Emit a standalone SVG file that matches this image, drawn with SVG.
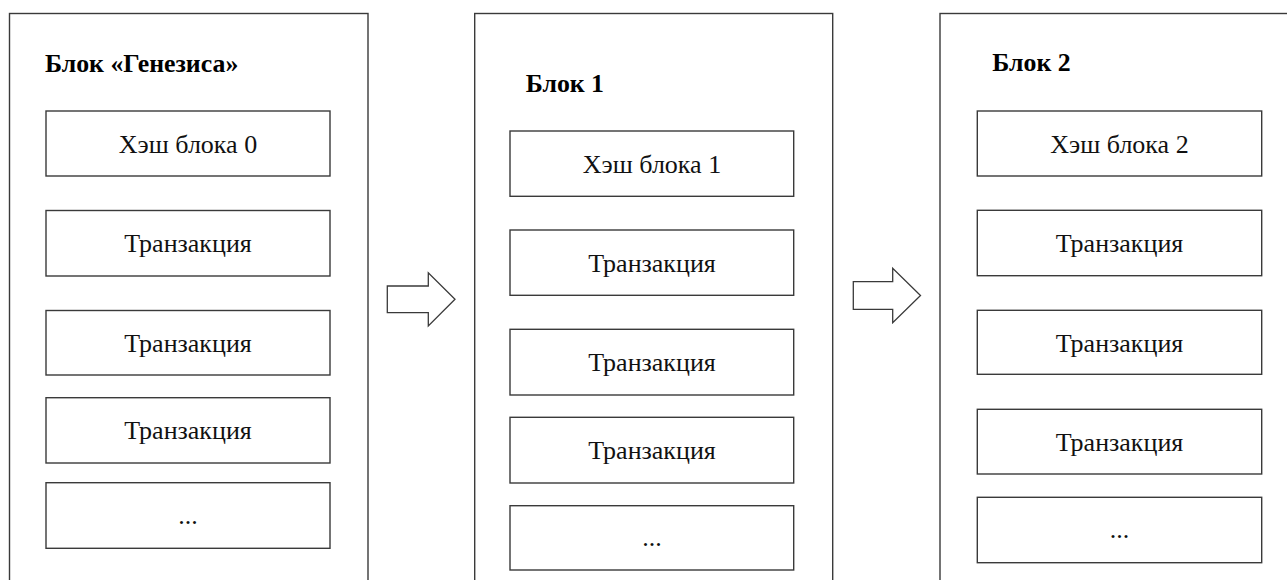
<svg xmlns="http://www.w3.org/2000/svg" width="1287" height="580" viewBox="0 0 1287 580">
<style>
.outer{fill:#fff;stroke:#3a3a3a;stroke-width:1.4}
.box{fill:#fff;stroke:#3a3a3a;stroke-width:1.4}
.title{font-family:"Liberation Serif","Times New Roman",serif;font-weight:bold;font-size:25.8px;fill:#000}
.lbl{font-family:"Liberation Serif","Times New Roman",serif;font-size:26px;fill:#111;text-anchor:middle}
.arrow{fill:#fff;stroke:#3a3a3a;stroke-width:1.3;stroke-linejoin:miter}
</style>
<rect width="1287" height="580" fill="#fff"/>
<g id="block0">
<rect class="outer" x="9.5" y="13.5" width="358.5" height="600"/>
<text class="title" x="45" y="71.7">Блок «Генезиса»</text>
<g id="b0-hash"><rect class="box" x="46" y="111" width="284" height="65"/><text class="lbl" x="188" y="153">Хэш блока 0</text></g>
<g id="b0-tx1"><rect class="box" x="46" y="210.5" width="284" height="65.5"/><text class="lbl" x="188" y="252">Транзакция</text></g>
<g id="b0-tx2"><rect class="box" x="46" y="310.5" width="284" height="64.5"/><text class="lbl" x="188" y="352">Транзакция</text></g>
<g id="b0-tx3"><rect class="box" x="46" y="397.7" width="284" height="65.3"/><text class="lbl" x="188" y="439">Транзакция</text></g>
<g id="b0-more"><rect class="box" x="46" y="482.7" width="284" height="65.6"/><text class="lbl" x="188" y="524">...</text></g>
</g>
<g id="block1">
<rect class="outer" x="474.7" y="13.5" width="358" height="600"/>
<text class="title" x="525.7" y="91.7">Блок 1</text>
<g id="b1-hash"><rect class="box" x="510" y="131" width="283.7" height="65.3"/><text class="lbl" x="652" y="173">Хэш блока 1</text></g>
<g id="b1-tx1"><rect class="box" x="510" y="230" width="283.7" height="65.3"/><text class="lbl" x="652" y="272">Транзакция</text></g>
<g id="b1-tx2"><rect class="box" x="510" y="329.3" width="283.7" height="65.7"/><text class="lbl" x="652" y="371">Транзакция</text></g>
<g id="b1-tx3"><rect class="box" x="510" y="417.3" width="283.7" height="65.7"/><text class="lbl" x="652" y="459">Транзакция</text></g>
<g id="b1-more"><rect class="box" x="510" y="505.7" width="283.7" height="64.3"/><text class="lbl" x="652" y="546">...</text></g>
</g>
<g id="block2">
<rect class="outer" x="940" y="13.5" width="400" height="600"/>
<text class="title" x="992.3" y="71">Блок 2</text>
<g id="b2-hash"><rect class="box" x="977.3" y="111" width="284.4" height="65"/><text class="lbl" x="1119.5" y="153">Хэш блока 2</text></g>
<g id="b2-tx1"><rect class="box" x="977.3" y="210.3" width="284.4" height="65.4"/><text class="lbl" x="1119.5" y="252">Транзакция</text></g>
<g id="b2-tx2"><rect class="box" x="977.3" y="310.3" width="284.4" height="64"/><text class="lbl" x="1119.5" y="352">Транзакция</text></g>
<g id="b2-tx3"><rect class="box" x="977.3" y="409.3" width="284.4" height="64.7"/><text class="lbl" x="1119.5" y="451">Транзакция</text></g>
<g id="b2-more"><rect class="box" x="977.3" y="497.3" width="284.4" height="65.4"/><text class="lbl" x="1119.5" y="538">...</text></g>
</g>
<g id="connectors">
<polygon class="arrow" points="387.3,286 428.3,286 428.3,272.7 455,299.3 428.3,326 428.3,312.7 387.3,312.7"/>
<polygon class="arrow" points="853.3,281.7 892.7,281.7 892.7,268.3 920.5,295.5 892.7,322.7 892.7,309.3 853.3,309.3"/>
</g>
</svg>
